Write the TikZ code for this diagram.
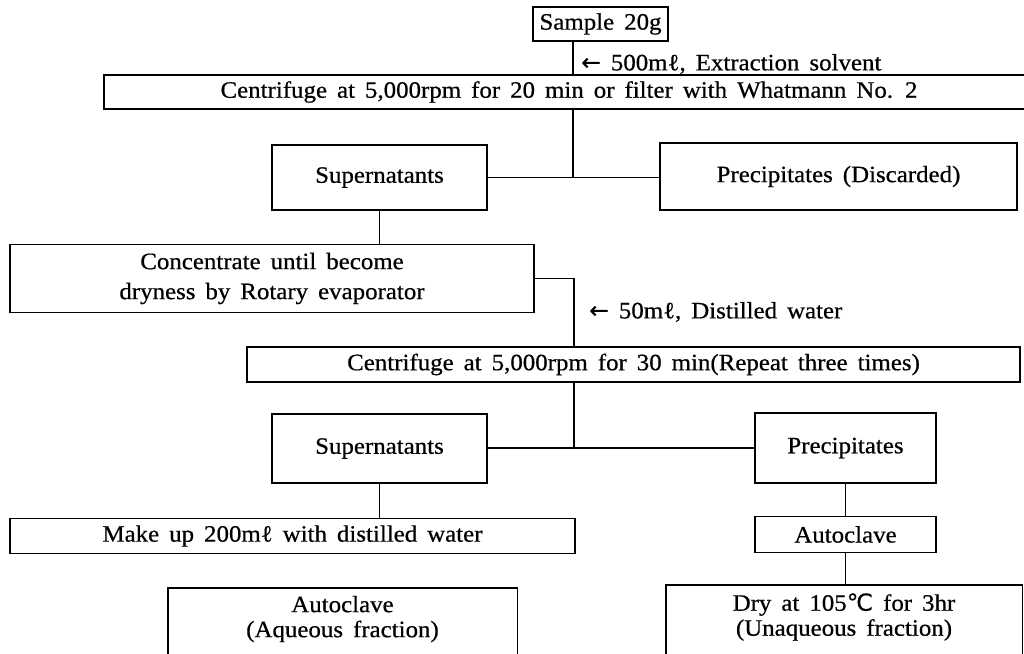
\documentclass[tikz,border=0pt]{standalone}
\usepackage{fontspec}
\setmainfont{Liberation Serif}[FakeStretch=1.06, WordSpace=1.6, FakeBold=0.6]
\newfontfamily\dvfont{DejaVu Sans}[FakeBold=0.3]
\begin{document}
\begin{tikzpicture}[x=1pt,y=-1pt,
  every node/.style={font=\fontsize{23.5}{30}\selectfont},
  box/.style={draw, line width=1.4pt, inner sep=0pt, align=center},
  openbox/.style={inner sep=0pt, align=center, font=\fontsize{23.5}{25}\selectfont},
  conn/.style={line width=1.4pt},
  lbl/.style={anchor=west, inner sep=0pt}]
\path[use as bounding box, clip] (0,0) rectangle (1024,653);
\fill[white] (0,0) rectangle (1024,653);
% boxes
\node[box, minimum width=135, minimum height=34] (sample) at (600.5,24) {Sample 20g};
\node[box, minimum width=930, minimum height=34] (cent1) at (569,92) {Centrifuge at 5,000rpm for 20 min or filter with Whatmann No. 2};
\node[box, minimum width=215, minimum height=65] (sup1) at (379.5,177.5) {Supernatants};
\node[box, minimum width=357, minimum height=67] (prec1) at (838.5,176.5) {Precipitates (Discarded)};
\node[box, minimum width=524, minimum height=68] (conc) at (272,278.5) {Concentrate until become\\dryness by Rotary evaporator};
\node[box, minimum width=773, minimum height=35] (cent2) at (633.5,364.5) {Centrifuge at 5,000rpm for 30 min(Repeat three times)};
\node[box, minimum width=215, minimum height=69] (sup2) at (379.5,448.5) {Supernatants};
\node[box, minimum width=181, minimum height=70] (prec2) at (845.5,448) {Precipitates};
\node[box, minimum width=565, minimum height=35] (makeup) at (292.5,536) {Make up 200mℓ with distilled water};
\node[box, minimum width=181, minimum height=36] (auto) at (845.5,534.5) {Autoclave};
% bottom boxes, open at the lower edge
\node[openbox, minimum width=349, minimum height=62] (aq) at (342.5,619) {Autoclave\\(Aqueous fraction)};
\node[openbox, minimum width=356, minimum height=64] (dry) at (844,617) {Dry at 105{\dvfont ℃} for 3hr\\(Unaqueous fraction)};
\draw[conn] ([yshift=-60]aq.south west) -- (aq.north west) -- (aq.north east) -- ([yshift=-60]aq.south east);
\draw[conn] ([yshift=-60]dry.south west) -- (dry.north west) -- (dry.north east) -- ([yshift=-60]dry.south east);
% junction columns
\coordinate (j1) at (573,0);
\coordinate (j2) at (574,0);
% connectors
\draw[conn] (sample.south -| j1) -- (cent1.north -| j1);
\node[lbl] (l1) at (581,64) {{\dvfont ←} 500mℓ, Extraction solvent};
\draw[conn] (cent1.south -| j1) -- (j1 |- sup1.east);
\draw[conn] (sup1.east) -- (prec1.west |- sup1.east);
\draw[conn] (sup1.south) -- (sup1.south |- conc.north);
\draw[conn] (conc.east) -| (cent2.north -| j2);
\node[lbl] (l2) at (589,312) {{\dvfont ←} 50mℓ, Distilled water};
\draw[conn] (cent2.south -| j2) -- (j2 |- prec2.west);
\draw[conn] (sup2.east |- prec2.west) -- (prec2.west);
\draw[conn] (sup2.south) -- (sup2.south |- makeup.north);
\draw[conn] (prec2.south) -- (auto.north);
\draw[conn] (auto.south) -- (auto.south |- dry.north);
\end{tikzpicture}
\end{document}
